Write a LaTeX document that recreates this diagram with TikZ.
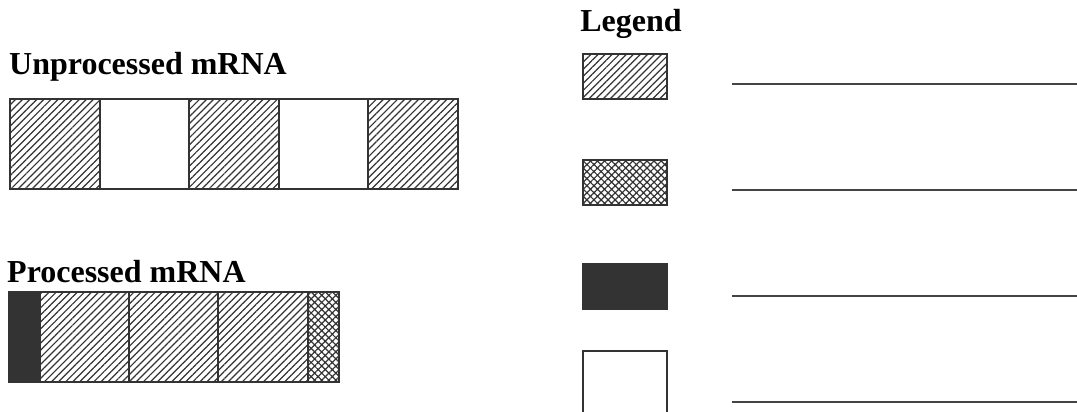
\documentclass[tikz,border=0pt]{standalone}
\usepackage{fontspec}
\setmainfont{Liberation Serif}
\usetikzlibrary{patterns.meta}
\definecolor{ink}{HTML}{333333}
\definecolor{rule}{HTML}{444444}
\tikzset{
  seg/.style={draw=ink, line width=2pt, anchor=north west, inner sep=0pt, outer sep=0pt,
    minimum height=89.5pt},
  hatchfill/.style={pattern={Lines[angle=45,distance=5pt,line width=1.2pt]}, pattern color=ink},
  crossfill/.style={pattern={Hatch[angle=45,distance=5pt,line width=1.2pt]}, pattern color=ink},
  solidfill/.style={fill=ink},
  emptyfill/.style={fill=white},
  legbox/.style={draw=ink, line width=2pt, anchor=north west, inner sep=0pt, outer sep=0pt,
    minimum width=84pt, minimum height=45pt},
  title/.style={font=\bfseries\fontsize{32}{36}\selectfont, anchor=base west, inner sep=0pt},
  blank/.style={draw=rule, line width=1.1pt}
}
\begin{document}
\begin{tikzpicture}[x=1pt,y=-1pt]
\useasboundingbox[fill=white] (0,0) rectangle (1077,412);
% titles
\node[title] (t1) at (9,75) {Unprocessed mRNA};
\node[title] (t2) at (7,282) {Processed mRNA};
\node[title, anchor=base] (t3) at (631,32) {Legend};
% unprocessed
\node[seg, hatchfill, minimum width=89.5pt] (u1) at (10,99.5) {};
\node[seg, emptyfill, minimum width=89.5pt] (u2) at (99.5,99.5) {};
\node[seg, hatchfill, minimum width=89.5pt] (u3) at (189,99.5) {};
\node[seg, emptyfill, minimum width=89.5pt] (u4) at (278.5,99.5) {};
\node[seg, hatchfill, minimum width=89.5pt] (u5) at (368,99.5) {};
% processed
\node[seg, solidfill, minimum width=31pt] (p1) at (9,292) {};
\node[seg, hatchfill, minimum width=89pt] (p2) at (40,292) {};
\node[seg, hatchfill, minimum width=89pt] (p3) at (129,292) {};
\node[seg, hatchfill, minimum width=89.5pt] (p4) at (218,292) {};
\node[seg, crossfill, minimum width=31pt] (p5) at (307.5,292) {};
% legend boxes
\node[legbox, hatchfill] (l1) at (583,54) {};
\node[legbox, crossfill] (l2) at (583,160) {};
\node[legbox, solidfill] (l3) at (583,264) {};
\node[legbox, fill=white, minimum height=70pt] (l4) at (583,351) {};
% answer lines
\coordinate (a1) at (732,84);   \coordinate (b1) at (1077,84);
\coordinate (a2) at (732,190);  \coordinate (b2) at (1077,190);
\coordinate (a3) at (732,296);  \coordinate (b3) at (1077,296);
\coordinate (a4) at (732,402);  \coordinate (b4) at (1077,402);
\draw[blank] (a1) -- (b1);
\draw[blank] (a2) -- (b2);
\draw[blank] (a3) -- (b3);
\draw[blank] (a4) -- (b4);
\end{tikzpicture}
\end{document}
